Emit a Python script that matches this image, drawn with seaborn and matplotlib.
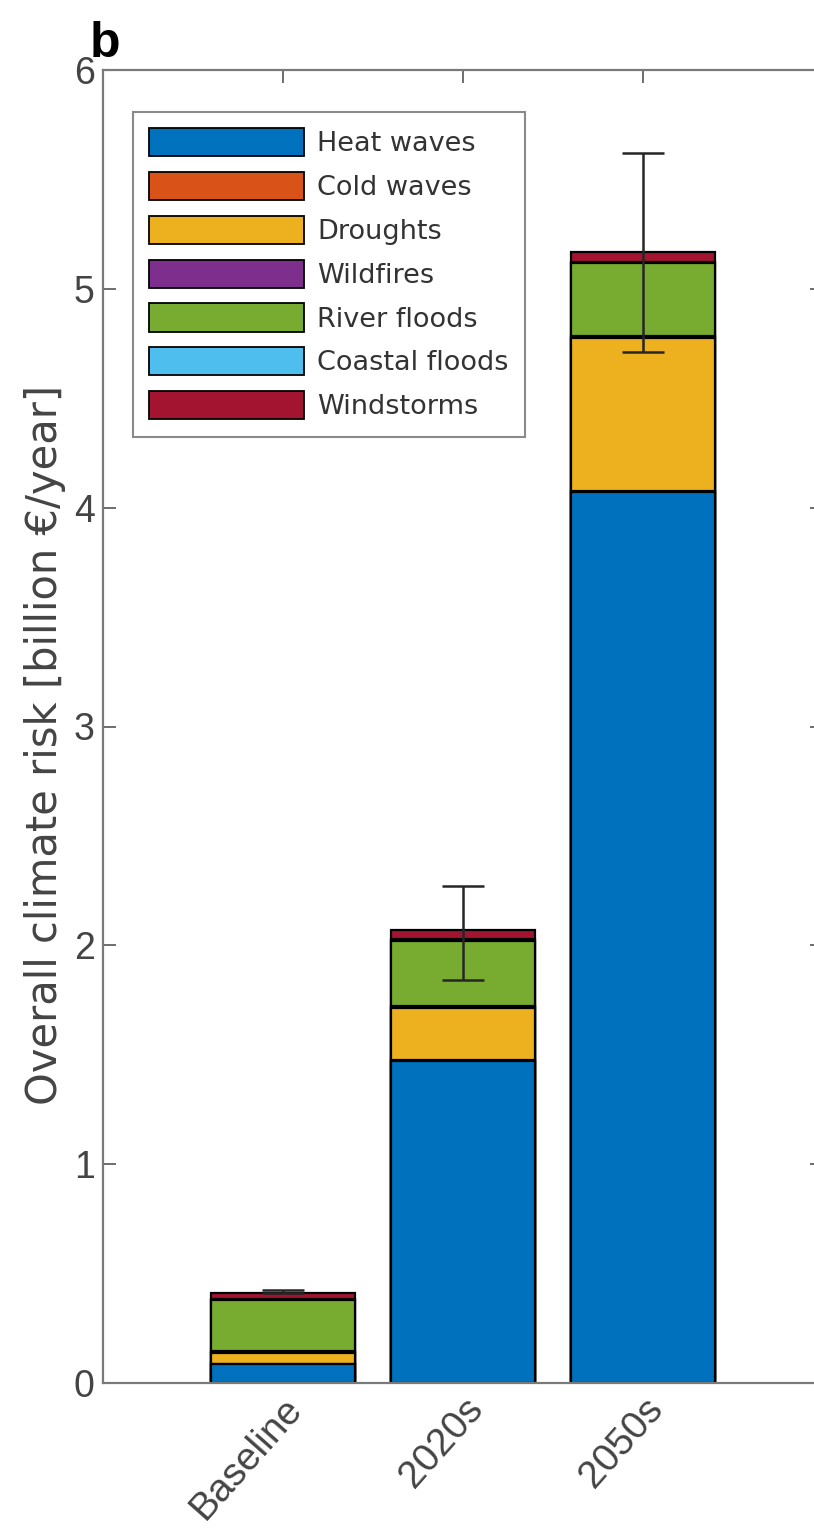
import numpy as np
import pandas as pd
import matplotlib
matplotlib.use("Agg")
import matplotlib.pyplot as plt
import matplotlib.transforms as mtransforms
from matplotlib.patches import Patch
import seaborn as sns

# Annual climate risk by hazard (billion €/year)
periods = ["Baseline", "2020s", "2050s"]
hazards = ["Heat waves", "Cold waves", "Droughts", "Wildfires",
           "River floods", "Coastal floods", "Windstorms"]
heat_waves = [0.085, 1.47, 4.07]
cold_waves = [0.003, 0.004, 0.006]
droughts = [0.05, 0.24, 0.70]
wildfires = [0.006, 0.008, 0.010]
river_floods = [0.235, 0.30, 0.33]
coastal_floods = [0.004, 0.006, 0.008]
windstorms = [0.030, 0.040, 0.045]
# uncertainty range of the total
err_low = [0.41, 1.84, 4.71]
err_high = [0.425, 2.27, 5.62]

colors = ["#0072BD", "#D95319", "#EDB120", "#7E2F8E",
          "#77AC30", "#4DBEEE", "#A2142F"]

layers = [heat_waves, cold_waves, droughts, wildfires,
          river_floods, coastal_floods, windstorms]
df = pd.DataFrame({h: v for h, v in zip(hazards, layers)}, index=periods)
cum = df.cumsum(axis=1)
total = cum[hazards[-1]].values

sns.set_theme(style="white")
plt.rcParams["font.family"] = ["Liberation Sans", "DejaVu Sans"]
wide = ["DejaVu Sans"]

W, H = 814, 1536
fig = plt.figure(figsize=(W / 100, H / 100), dpi=100)
ax = fig.add_axes([103 / W, (H - 1383) / H, 720 / W, (1383 - 70) / H])

# stacked bars: draw cumulative heights from the top layer down
for h, c in zip(reversed(hazards), reversed(colors)):
    sns.barplot(x=periods, y=cum[h].values, color=c, width=0.8,
                edgecolor="black", linewidth=1.6, saturation=1, ax=ax,
                order=periods)

xpos = np.arange(len(periods))
ax.errorbar(xpos, total, yerr=[total - np.array(err_low), np.array(err_high) - total],
            fmt="none", ecolor="#262626", elinewidth=1.8, capsize=15, capthick=1.8,
            zorder=5)

ax.set_xlim(-1, 3)
ax.set_ylim(0, 6)
ax.set_yticks(range(0, 7))
ax.set_xticks(xpos)
ax.set_xticklabels(periods, rotation=48.5, ha="right", va="top",
                   rotation_mode="anchor", fontsize=28)
offset = mtransforms.ScaledTranslation(0.25, -0.02, fig.dpi_scale_trans)
for lbl in ax.get_xticklabels():
    lbl.set_transform(lbl.get_transform() + offset)

tick_col = "#444444"
ax.tick_params(axis="both", direction="in", length=9.5, width=1.2,
               color="#555555", labelcolor=tick_col,
               top=True, right=True, bottom=True, left=True, pad=6)
ax.tick_params(axis="y", labelsize=27)
ax.set_xlabel("")
ax.set_ylabel("Overall climate risk [billion €/year]", fontsize=30,
              color=tick_col, family=wide)
ax.yaxis.set_label_coords(-0.052, 0.486)
for s in ax.spines.values():
    s.set_color("#7a7a7a")
    s.set_linewidth(1.6)
    s.set_visible(True)

handles = [Patch(facecolor=c, edgecolor="black", linewidth=1.3, label=h)
           for h, c in zip(hazards, colors)]
leg = ax.legend(handles=handles, loc="upper left",
                bbox_to_anchor=(133 / W, 1 - 112 / H),
                bbox_transform=fig.transFigure, borderaxespad=0,
                prop={"family": wide, "size": 19.5},
                handlelength=5.7, handleheight=1.22,
                labelspacing=0.54, handletextpad=0.5, borderpad=0.6,
                frameon=True, fancybox=False, framealpha=1)
leg.get_frame().set_edgecolor("#8a8a8a")
leg.get_frame().set_linewidth(1.5)
for t in leg.get_texts():
    t.set_color("#333333")

fig.text(90 / W, 1 - 57 / H, "b", fontsize=36, fontweight="bold",
         color="black", ha="left", va="baseline")

fig.savefig("out.png", dpi=100)
